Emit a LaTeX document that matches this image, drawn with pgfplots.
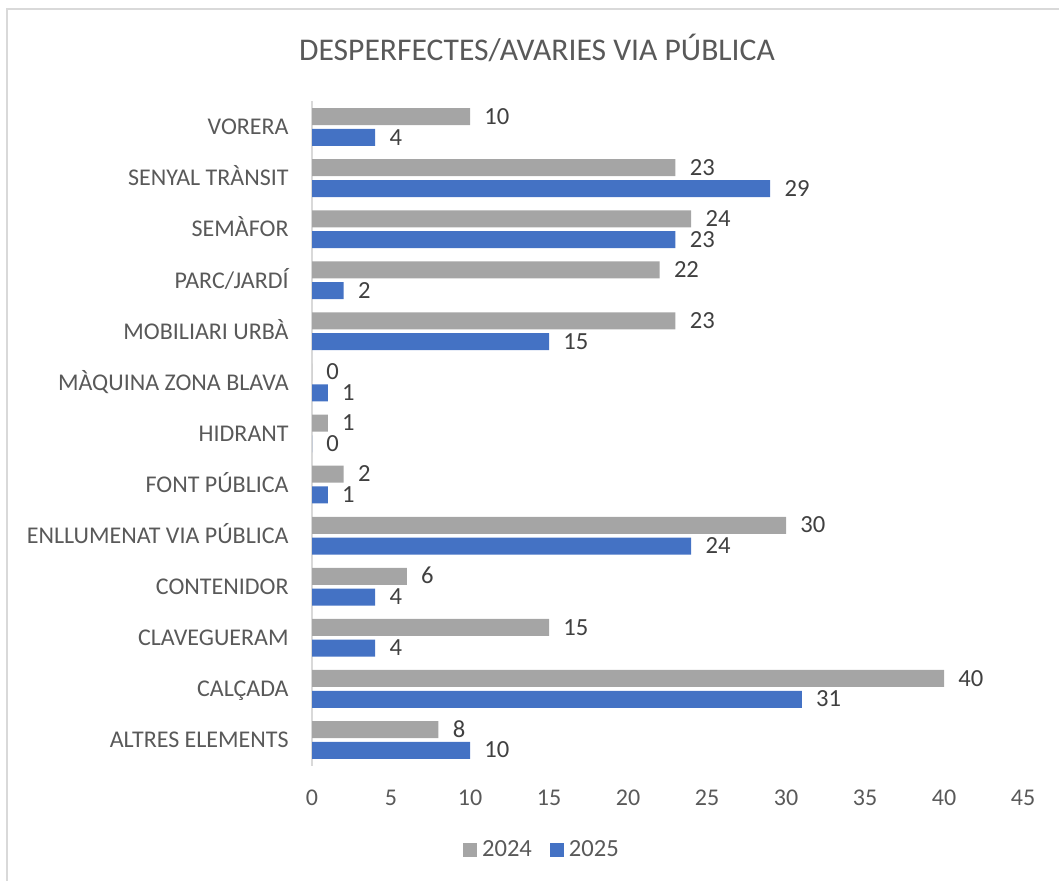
\documentclass[border=0pt]{standalone}
\usepackage{fontspec}
\setmainfont{Carlito}
\usepackage{pgfplots}
\pgfplotsset{compat=1.18}
\definecolor{bar24}{HTML}{A5A5A5}
\definecolor{bar25}{HTML}{4472C4}
\definecolor{txt}{HTML}{595959}
\definecolor{lbl}{HTML}{404040}
\definecolor{frame}{HTML}{D9D9D9}

\begin{document}
\begin{tikzpicture}
\begin{scope}[x=0.5pt,y=-0.5pt]
  \useasboundingbox (0,0) rectangle (1059,881);
  \draw[frame, line width=1pt] (7,881) -- (7,9) -- (1059,9);
\end{scope}
\begin{axis}[
    at={(156pt,-382.75pt)}, anchor=south west,
    width=355.5pt, height=332pt, scale only axis,
    xbar, bar width=8.5pt,
    xmin=0, xmax=45, ymin=-0.5, ymax=12.5,
    xtick={0,5,...,45},
    ytick={0,...,12},
    yticklabels={ALTRES ELEMENTS, CALÇADA, CLAVEGUERAM, CONTENIDOR,
      ENLLUMENAT VIA PÚBLICA, FONT PÚBLICA, HIDRANT, MÀQUINA ZONA BLAVA,
      MOBILIARI URBÀ, PARC/JARDÍ, SEMÀFOR, SENYAL TRÀNSIT, VORERA},
    axis lines*=left,
    x axis line style={draw=none},
    y axis line style={draw=frame, line width=1pt},
    major tick length=0pt,
    clip=false,
    /pgf/number format/assume math mode=true,
    tick label style={font=\fontsize{12}{14}\selectfont, text=txt},
    x tick label style={anchor=base, inner sep=0pt, yshift=-19.75pt},
    y tick label style={anchor=base east, inner sep=0pt, xshift=-11.5pt, yshift=-3.9pt},
    nodes near coords,
    nodes near coords style={font=\fontsize{12.3}{14}\selectfont, text=lbl,
      anchor=base west, inner sep=0pt, xshift=7pt, yshift=-3.8pt},
    title={DESPERFECTES/AVARIES VIA PÚBLICA},
    title style={at={(0.3165,1.0444)}, anchor=base, yshift=0pt,
      font=\fontsize{15.8}{18}\selectfont, text=txt},
    legend style={at={(0.322,-0.1273)}, anchor=center, draw=none, fill=none,
      legend columns=-1, font=\fontsize{12.3}{14}\selectfont, text=txt,
      nodes={inner sep=0pt},
      /tikz/every odd column/.append style={column sep=0pt},
      /tikz/every even column/.append style={column sep=9pt}},
    legend image code/.code={},
  ]
  \addplot[fill=bar24, draw=none, bar shift=5.2pt] coordinates {
    (8,0) (40,1) (15,2) (6,3) (30,4) (2,5) (1,6) (0,7)
    (23,8) (22,9) (24,10) (23,11) (10,12)
  };
  \addlegendentry{\textcolor{bar24}{\rule{7pt}{7pt}}\hspace{2.5pt}2024}
  \addplot[fill=bar25, draw=none, bar shift=-5.2pt] coordinates {
    (10,0) (31,1) (4,2) (4,3) (24,4) (1,5) (0,6) (1,7)
    (15,8) (2,9) (23,10) (29,11) (4,12)
  };
  \addlegendentry{\textcolor{bar25}{\rule{7pt}{7pt}}\hspace{2.5pt}2025}
\end{axis}
\end{tikzpicture}
\end{document}
